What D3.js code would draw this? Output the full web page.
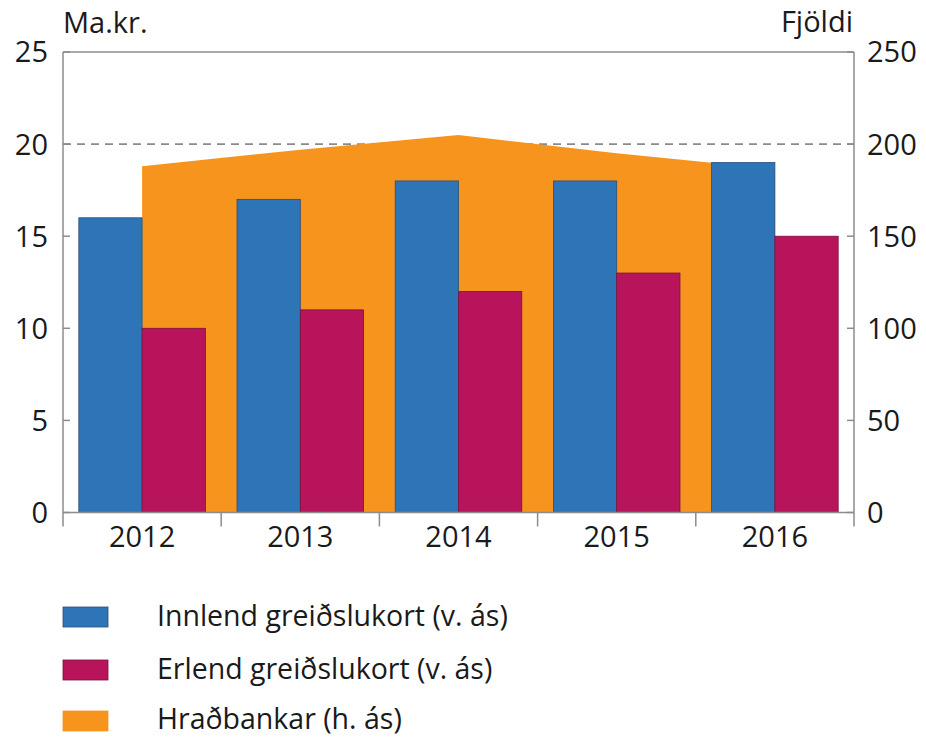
<!DOCTYPE html>
<html><head><meta charset="utf-8">
<script src="https://cdn.jsdelivr.net/npm/d3@7"></script>
<style>body{margin:0;background:#fff;} text{font-family:"Open Sans",sans-serif;fill:#1a1a1a;}</style>
</head><body>
<svg id="c" width="926" height="738"></svg>
<script>
const years = ["2012","2013","2014","2015","2016"];
const innlend = [16,17,18,18,19];
const erlend = [10,11,12,13,15];
const hradbankar = [188,197,205,195,186.5];
const leftTicks = [0,5,10,15,20,25];
const rightTicks = [0,50,100,150,200,250];
const seriesNames = ["Innlend greiðslukort (v. ás)","Erlend greiðslukort (v. ás)","Hraðbankar (h. ás)"];
const colors = ["#2e75b8","#b8145c","#f7941e"];
const strokes = ["#2a4e78","#7a1040","#f7941e"];

const svg = d3.select("#c");
const L=63,R=854,T=52,B=512.5;
const x0 = d3.scaleBand().domain(years).range([L,R]).paddingInner(0).paddingOuter(0);
const x1 = d3.scaleBand().domain(["inn","erl"]).range([0,x0.bandwidth()]).paddingInner(0).paddingOuter(0.25);
const yL = d3.scaleLinear().domain([0,25]).range([B,T]);
const yR = d3.scaleLinear().domain([0,250]).range([B,T]);
const fs = 29;

// gridline at 20
svg.append("line").attr("x1",L).attr("x2",R).attr("y1",yL(20)).attr("y2",yL(20))
  .attr("stroke","#8a8a8a").attr("stroke-width",1.6).attr("stroke-dasharray","8,6");

// area
const area = d3.area().x((d,i)=>x0(years[i])+x0.bandwidth()/2).y0(B).y1(d=>yR(d));
svg.append("path").datum(hradbankar).attr("d",area).attr("fill",colors[2]);

// bars
const g = svg.append("g");
years.forEach((yr,i)=>{
  [["inn",innlend[i],0],["erl",erlend[i],1]].forEach(([k,v,ci])=>{
    g.append("rect").attr("x",x0(yr)+x1(k)).attr("width",x1.bandwidth())
     .attr("y",yL(v)).attr("height",B-yL(v))
     .attr("fill",colors[ci]).attr("stroke",strokes[ci]).attr("stroke-width",0.8);
  });
});

// frame
const ax = "#8c8c8c";
svg.append("line").attr("x1",L).attr("x2",R).attr("y1",T).attr("y2",T).attr("stroke",ax).attr("stroke-width",1.5);
svg.append("line").attr("x1",L).attr("x2",L).attr("y1",T).attr("y2",B+14).attr("stroke",ax).attr("stroke-width",1.5);
svg.append("line").attr("x1",R).attr("x2",R).attr("y1",T).attr("y2",B+14).attr("stroke",ax).attr("stroke-width",1.5);
svg.append("line").attr("x1",L).attr("x2",R).attr("y1",B).attr("y2",B).attr("stroke",ax).attr("stroke-width",1.5);

// left ticks
leftTicks.forEach(t=>{
  svg.append("line").attr("x1",L).attr("x2",L+7).attr("y1",yL(t)).attr("y2",yL(t)).attr("stroke",ax).attr("stroke-width",1.5);
  svg.append("text").attr("x",48).attr("y",yL(t)).attr("dy","0.36em").attr("text-anchor","end").attr("font-size",fs).text(t);
});
rightTicks.forEach(t=>{
  svg.append("line").attr("x1",R-7).attr("x2",R).attr("y1",yR(t)).attr("y2",yR(t)).attr("stroke",ax).attr("stroke-width",1.5);
  svg.append("text").attr("x",867).attr("y",yR(t)).attr("dy","0.36em").attr("text-anchor","start").attr("font-size",fs).text(t);
});
// x ticks
years.forEach((yr,i)=>{
  if(i>0) svg.append("line").attr("x1",x0(yr)).attr("x2",x0(yr)).attr("y1",B).attr("y2",B+14).attr("stroke",ax).attr("stroke-width",1.5);
  svg.append("text").attr("x",x0(yr)+x0.bandwidth()/2).attr("y",547).attr("text-anchor","middle").attr("font-size",fs).text(yr);
});

svg.append("text").attr("x",63).attr("y",33).attr("font-size",fs).text("Ma.kr.");
svg.append("text").attr("x",853).attr("y",32).attr("text-anchor","end").attr("font-size",fs).text("Fjöldi");

// legend
const legY = [617,670,721];
const legBase = [626,679,729];
seriesNames.forEach((n,i)=>{
  svg.append("rect").attr("x",63).attr("y",legY[i]-10).attr("width",45).attr("height",20)
    .attr("fill",colors[i]).attr("stroke",strokes[i]).attr("stroke-width",0.8);
  svg.append("text").attr("x",157).attr("y",legBase[i]).attr("font-size",28.5).text(n);
});
</script>
</body></html>
